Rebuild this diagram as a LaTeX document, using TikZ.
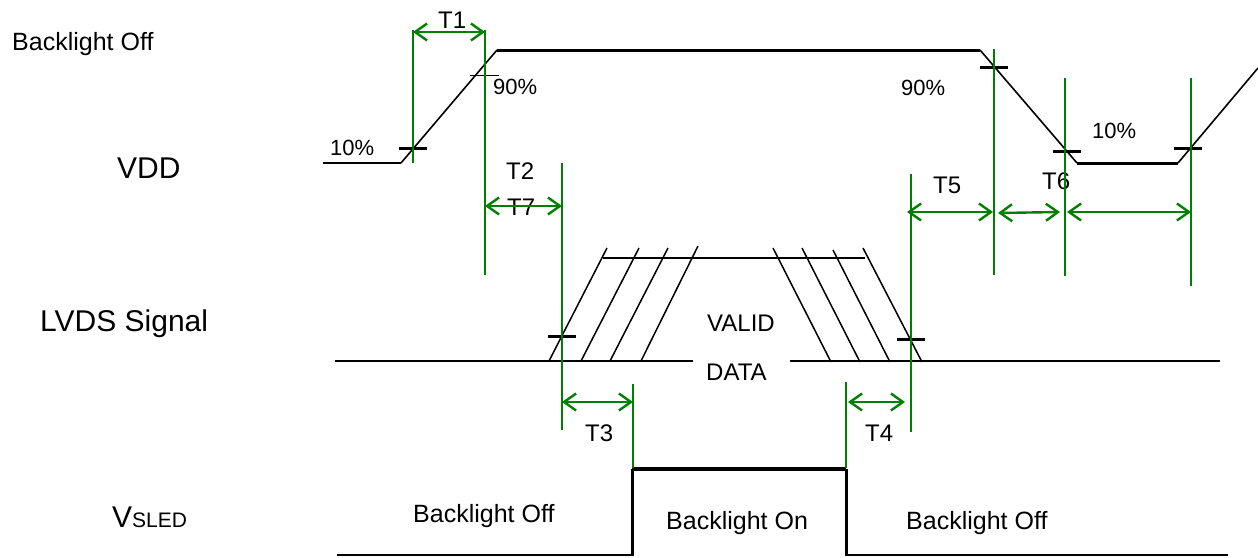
\documentclass[tikz,border=0pt]{standalone}
\usepackage{fontspec}
\setmainfont{Liberation Sans}
\usetikzlibrary{arrows.meta}
\definecolor{dgreen}{RGB}{0,128,0}
\begin{document}
\begin{tikzpicture}[x=1pt,y=-1pt,
  sigthin/.style={draw=black,line width=1.6pt},
  sigmid/.style={draw=black,line width=2.4pt},
  sigthick/.style={draw=black,line width=3pt},
  hatch/.style={draw=black,line width=1.5pt},
  tickmark/.style={draw=black,line width=3pt},
  grn/.style={draw=dgreen,line width=1.8pt},
  dimarrow/.style={draw=dgreen,line width=2.4pt,{Straight Barb[length=12pt,width=17pt]}-{Straight Barb[length=12pt,width=17pt]}},
  lbl/.style={anchor=base west,inner sep=0pt,font=\fontsize{24}{29}\selectfont},
  pct/.style={anchor=base west,inner sep=0pt,font=\fontsize{22}{26}\selectfont},
  big/.style={anchor=base west,inner sep=0pt,font=\fontsize{30}{36}\selectfont}]
\useasboundingbox (0,0) rectangle (1258,557);

% ---------- row labels ----------
\node[lbl,font=\fontsize{25}{30}\selectfont] (blofftop) at (12,50) {Backlight Off};
\node[big] (vdd) at (117,178) {VDD};
\node[big] (lvds) at (40,331) {LVDS Signal};
\node[big] (vsled) at (112,527) {V{\fontsize{21}{25}\selectfont SLED}};

% ---------- VDD waveform ----------
\draw[sigmid] (323,163) -- (401,163);
\draw[sigthin,line join=round] (401,163) -- (497,50);
\draw[sigthick] (497,50) -- (980,50);
\draw[sigthin] (980,50) -- (1077,163);
\draw[sigthick] (1077,163) -- (1178,163);
\draw[sigthin] (1178,163) -- (1258,68);

% ticks on VDD
\draw[tickmark] (399,148) -- (427,148);
\draw[draw=black,line width=1pt] (470,75) -- (499,75);
\draw[tickmark] (980,67) -- (1008,67);
\draw[tickmark] (1053,151) -- (1081,151);
\draw[tickmark] (1174,148) -- (1202,148);

% percent labels
\node[pct] (p10a) at (330,155) {10\%};
\node[pct] (p90a) at (493,94) {90\%};
\node[pct] (p90b) at (901,95) {90\%};
\node[pct] (p10b) at (1092,138) {10\%};

% ---------- LVDS signal ----------
\draw[hatch] (335,361) -- (693,361);
\draw[hatch] (790,361) -- (1220,361);
\draw[draw=black,line width=1.2pt] (603,258) -- (865,258);
\draw[hatch] (549,361) -- (607,248);
\draw[hatch] (581,361) -- (639,248);
\draw[hatch] (610,361) -- (668,248);
\draw[hatch] (641,361) -- (698,246);
\draw[hatch] (773,248) -- (831,362);
\draw[hatch] (802,248) -- (860,362);
\draw[hatch] (833,250) -- (890,362);
\draw[hatch] (863,248) -- (922,362);
\draw[tickmark] (548,336) -- (576,336);
\draw[tickmark] (897,339) -- (925,339);
\node[lbl] (valid) at (707,331) {VALID};
\node[lbl] (data) at (706,380) {DATA};

% ---------- VSLED ----------
\draw[draw=black,line width=2pt] (337,555) -- (632,555);
\draw[draw=black,line width=3pt] (632,556) -- (632,469);
\draw[draw=black,line width=4pt] (632,469) -- (846,469);
\draw[draw=black,line width=3pt] (846,469) -- (846,556);
\draw[draw=black,line width=2pt] (846,555) -- (1228,555);
\node[lbl,font=\fontsize{25}{30}\selectfont] (bloffl) at (413,522) {Backlight Off};
\node[lbl,font=\fontsize{25}{30}\selectfont] (blon) at (666,529) {Backlight On};
\node[lbl,font=\fontsize{25}{30}\selectfont] (bloffr) at (906,529) {Backlight Off};

% ---------- timing labels ----------
\node[lbl] (t1) at (438,28) {T1};
\node[lbl] (t2) at (506,179) {T2};
\node[lbl] (t7) at (507,215) {T7};
\node[lbl] (t5) at (933,193) {T5};
\node[lbl] (t6) at (1042,189) {T6};
\node[lbl] (t3) at (585,441) {T3};
\node[lbl] (t4) at (865,441) {T4};

% ---------- green guide lines ----------
\coordinate (g1a) at (413,30);   \coordinate (g1b) at (413,163);
\coordinate (g2a) at (485,30);   \coordinate (g2b) at (485,275);
\coordinate (g3a) at (562,163);  \coordinate (g3b) at (562,430);
\coordinate (g4a) at (633,384);  \coordinate (g4b) at (633,468);
\coordinate (g5a) at (846,382);  \coordinate (g5b) at (846,468);
\coordinate (g6a) at (911,174);  \coordinate (g6b) at (911,432);
\coordinate (g7a) at (994,49);   \coordinate (g7b) at (994,275);
\coordinate (g8a) at (1065,78);  \coordinate (g8b) at (1065,276);
\coordinate (g9a) at (1191,78);  \coordinate (g9b) at (1191,286);
\draw[grn] (g1a) -- (g1b);
\draw[grn] (g2a) -- (g2b);
\draw[grn] (g3a) -- (g3b);
\draw[grn] (g4a) -- (g4b);
\draw[grn] (g5a) -- (g5b);
\draw[grn] (g6a) -- (g6b);
\draw[grn] (g7a) -- (g7b);
\draw[grn,line width=1.3pt] (g8a) -- (g8b);
\draw[grn,line width=1.3pt] (g9a) -- (g9b);

% ---------- dimension arrows ----------
\coordinate (a1l) at (413,32);   \coordinate (a1r) at (485,32);
\coordinate (a2l) at (485,206);  \coordinate (a2r) at (562,206);
\coordinate (a3l) at (562,402);  \coordinate (a3r) at (633,402);
\coordinate (a4l) at (848,402);  \coordinate (a4r) at (905,402);
\coordinate (a5l) at (907,212);  \coordinate (a5r) at (993,212);
\coordinate (a6l) at (998,213);  \coordinate (a6r) at (1060,212);
\coordinate (a7l) at (1067,212); \coordinate (a7r) at (1191,212);
\draw[dimarrow] (a1l) -- (a1r);
\draw[dimarrow] (a2l) -- (a2r);
\draw[dimarrow] (a3l) -- (a3r);
\draw[dimarrow] (a4l) -- (a4r);
\draw[dimarrow] (a5l) -- (a5r);
\draw[dimarrow] (a6l) -- (a6r);
\draw[dimarrow] (a7l) -- (a7r);
\end{tikzpicture}
\end{document}
